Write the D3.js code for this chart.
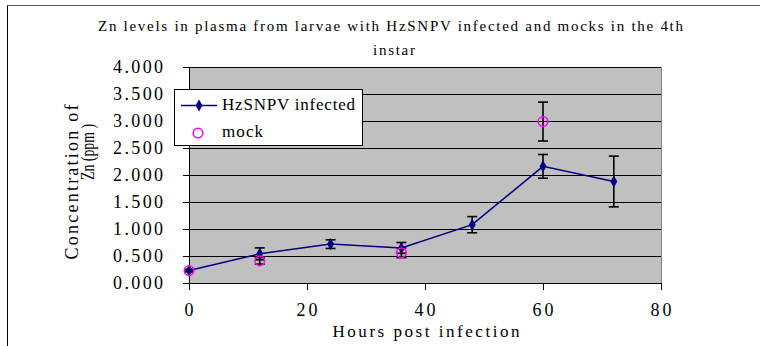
<html>
<head>
    <style>
        body { margin: 0; background: #fff; }
        svg { display: block; }
        text { font-family: "Liberation Serif", "DejaVu Serif", serif; fill: #000; }
    </style>
</head>
<body>
<svg width='760' height='346'></svg>
<script src='https://cdnjs.cloudflare.com/ajax/libs/d3/7.8.5/d3.min.js'></script>
<script>
    // hours post infection
    const hours = [0, 12, 24, 36, 48, 60, 72];
    const infected = [0.23, 0.54, 0.72, 0.65, 1.08, 2.16, 1.88];
    const infectedErr = [0.02, 0.11, 0.08, 0.10, 0.15, 0.22, 0.47];
    const mockHours = [0, 12, 36, 60];
    const mock = [0.23, 0.41, 0.56, 2.99];
    const mockErr = [0.02, 0.06, 0.09, 0.36];
    const yTicks = [0, 0.5, 1, 1.5, 2, 2.5, 3, 3.5, 4];
    const xTicks = [0, 20, 40, 60, 80];

    const svg = d3.select('svg');
    const x = d3.scaleLinear().domain([0, 80]).range([189, 661]);
    const y = d3.scaleLinear().domain([0, 4]).range([283, 67]);

    // outer chart border
    svg.append('line').attr('x1', 7.5).attr('y1', 5).attr('x2', 7.5).attr('y2', 346)
        .attr('stroke', '#000');
    svg.append('line').attr('x1', 7).attr('y1', 5.5).attr('x2', 760).attr('y2', 5.5)
        .attr('stroke', '#555');

    // title
    svg.append('text').attr('x', 390.5).attr('y', 31).attr('text-anchor', 'middle')
        .attr('font-size', 15).attr('textLength', 585).attr('lengthAdjust', 'spacing')
        .text('Zn levels in plasma from larvae with HzSNPV infected and mocks in the 4th');
    svg.append('text').attr('x', 394).attr('y', 55).attr('text-anchor', 'middle')
        .attr('font-size', 15).attr('textLength', 42).attr('lengthAdjust', 'spacing')
        .text('instar');

    // plot area
    svg.append('rect').attr('x', x(0)).attr('y', y(4)).attr('width', x(80) - x(0))
        .attr('height', y(0) - y(4)).attr('fill', '#C0C0C0');
    svg.append('path')
        .attr('d', `M${x(0)},${y(4) + 0.5}H${x(80) + 0.5}V${y(0)}`)
        .attr('fill', 'none').attr('stroke', '#808080');

    // grid lines
    svg.selectAll('.grid').data(yTicks.slice(1)).join('line')
        .attr('x1', x(0)).attr('x2', x(80))
        .attr('y1', d => Math.round(y(d)) + 0.5).attr('y2', d => Math.round(y(d)) + 0.5)
        .attr('stroke', '#000');

    // y axis
    svg.append('line').attr('x1', x(0) + 0.5).attr('x2', x(0) + 0.5)
        .attr('y1', y(4)).attr('y2', y(0)).attr('stroke', '#000');
    svg.selectAll('.ytick').data(yTicks).join('line')
        .attr('x1', x(0) - 6).attr('x2', x(0))
        .attr('y1', d => Math.round(y(d)) + 0.5).attr('y2', d => Math.round(y(d)) + 0.5)
        .attr('stroke', '#000');
    svg.selectAll('.ylab').data(yTicks).join('text')
        .attr('x', 163).attr('y', d => y(d) + 6)
        .attr('text-anchor', 'end').attr('font-size', 18)
        .attr('textLength', 50).attr('lengthAdjust', 'spacing')
        .text(d3.format('.3f'));

    // x axis
    svg.append('line').attr('x1', x(0)).attr('x2', x(80))
        .attr('y1', y(0) + 0.5).attr('y2', y(0) + 0.5).attr('stroke', '#000');
    svg.selectAll('.xtick').data(xTicks).join('line')
        .attr('x1', d => Math.round(x(d)) + 0.5).attr('x2', d => Math.round(x(d)) + 0.5)
        .attr('y1', y(0)).attr('y2', y(0) + 7)
        .attr('stroke', '#000');
    svg.selectAll('.xlab').data(xTicks).join('text')
        .attr('x', d => x(d)).attr('y', 316)
        .attr('text-anchor', 'middle').attr('font-size', 18)
        .attr('textLength', d => d === 0 ? 9 : 21).attr('lengthAdjust', 'spacing')
        .text(d => d);

    svg.append('text').attr('x', 426).attr('y', 337).attr('text-anchor', 'middle')
        .attr('font-size', 17).attr('textLength', 187).attr('lengthAdjust', 'spacing')
        .text('Hours post infection');

    // y axis title
    svg.append('text').attr('transform', 'translate(78,182) rotate(-90)')
        .attr('text-anchor', 'middle').attr('font-size', 18)
        .attr('textLength', 155).attr('lengthAdjust', 'spacing')
        .text('Concentration of');
    svg.append('text').attr('transform', 'translate(94,152) rotate(-90)')
        .attr('text-anchor', 'middle').attr('font-size', 18)
        .attr('textLength', 56).attr('lengthAdjust', 'spacingAndGlyphs')
        .text('Zn (ppm )');

    function errorBars (xs, ys, es) {
        const g = svg.append('g').attr('stroke', '#000').attr('stroke-width', 1.6);
        xs.forEach((h, i) => {
            const cx = x(h), top = y(ys[i] + es[i]), bot = y(ys[i] - es[i]);
            g.append('line').attr('x1', cx).attr('x2', cx).attr('y1', top).attr('y2', bot);
            g.append('line').attr('x1', cx - 5).attr('x2', cx + 5).attr('y1', top).attr('y2', top);
            g.append('line').attr('x1', cx - 5).attr('x2', cx + 5).attr('y1', bot).attr('y2', bot);
        });
    }

    // infected series
    const line = d3.line().x(d => x(d[0])).y(d => y(d[1]));
    svg.append('path').datum(hours.map((h, i) => [h, infected[i]]))
        .attr('d', line).attr('fill', 'none').attr('stroke', '#000080').attr('stroke-width', 1.5);
    errorBars(hours, infected, infectedErr);
    const diamond = d3.symbol().type(d3.symbolDiamond).size(42);
    svg.selectAll('.inf').data(hours).join('path')
        .attr('d', diamond)
        .attr('transform', (h, i) => `translate(${x(h)},${y(infected[i])})`)
        .attr('fill', '#000080');

    // mock series
    errorBars(mockHours, mock, mockErr);
    svg.selectAll('.mock').data(mockHours).join('circle')
        .attr('cx', d => x(d)).attr('cy', (d, i) => y(mock[i])).attr('r', 4.8)
        .attr('fill', 'none').attr('stroke', '#FF00FF').attr('stroke-width', 1.5);

    // legend
    const lg = svg.append('g');
    lg.append('rect').attr('x', 174.5).attr('y', 89.5).attr('width', 188).attr('height', 56)
        .attr('fill', '#fff').attr('stroke', '#000');
    lg.append('line').attr('x1', 181).attr('x2', 217).attr('y1', 105.5).attr('y2', 105.5)
        .attr('stroke', '#000080').attr('stroke-width', 1.5);
    lg.append('path').attr('d', diamond).attr('transform', 'translate(199,105.5)').attr('fill', '#000080');
    lg.append('text').attr('x', 222).attr('y', 110).attr('font-size', 17)
        .attr('textLength', 133).attr('lengthAdjust', 'spacing').text('HzSNPV infected');
    lg.append('circle').attr('cx', 198).attr('cy', 133).attr('r', 4.8)
        .attr('fill', 'none').attr('stroke', '#FF00FF').attr('stroke-width', 1.5);
    lg.append('text').attr('x', 222).attr('y', 137).attr('font-size', 17)
        .attr('textLength', 41).attr('lengthAdjust', 'spacing').text('mock');
</script>
</body>
</html>
